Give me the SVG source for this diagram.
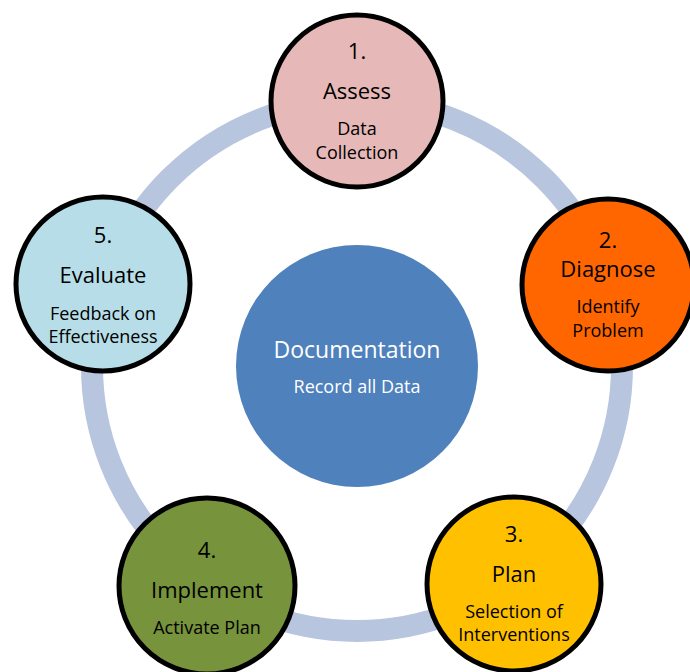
<svg xmlns="http://www.w3.org/2000/svg" width="690" height="672" viewBox="0 0 690 672">
  <style>
    .step { stroke: #000; stroke-width: 5; }
    text { font-family: "Open Sans", "Noto Sans", sans-serif; text-anchor: middle; fill: #000; }
    .big { font-size: 22px; }
    .small { font-size: 18px; }
    .light { fill: #fff; }
  </style>
  <rect width="690" height="672" fill="#fff"/>

  <!-- cycle ring linking the steps -->
  <g id="connectors">
    <circle cx="357" cy="366" r="265" fill="none" stroke="#B7C5DF" stroke-width="22"/>
  </g>

  <g id="documentation">
    <circle cx="357" cy="366" r="121" fill="#4F81BD"/>
    <text x="357" y="358" class="light" style="font-size:23px">Documentation</text>
    <text x="357" y="393" class="light small">Record all Data</text>
  </g>

  <g id="assess">
    <circle class="step" cx="357" cy="101" r="86" fill="#E6B8B7"/>
    <text x="357" y="59" class="big">1.</text>
    <text x="357" y="99" class="big">Assess</text>
    <text x="357" y="135" class="small">Data</text>
    <text x="357" y="159" class="small">Collection</text>
  </g>

  <g id="diagnose">
    <circle class="step" cx="608" cy="285" r="86" fill="#FF6600"/>
    <text x="608" y="248" class="big">2.</text>
    <text x="608" y="277" class="big">Diagnose</text>
    <text x="608" y="313" class="small">Identify</text>
    <text x="608" y="337" class="small">Problem</text>
  </g>

  <g id="plan">
    <circle class="step" cx="514" cy="584" r="87" fill="#FFC000"/>
    <text x="514" y="542" class="big">3.</text>
    <text x="514" y="582" class="big">Plan</text>
    <text x="514" y="618" class="small">Selection of</text>
    <text x="514" y="641" class="small">Interventions</text>
  </g>

  <g id="implement">
    <circle class="step" cx="207" cy="586" r="88" fill="#77933C"/>
    <text x="207" y="558" class="big">4.</text>
    <text x="207" y="598" class="big">Implement</text>
    <text x="207" y="634" class="small">Activate Plan</text>
  </g>

  <g id="evaluate">
    <circle class="step" cx="103" cy="284" r="87" fill="#B7DEE8"/>
    <text x="103" y="243" class="big">5.</text>
    <text x="103" y="283" class="big">Evaluate</text>
    <text x="103" y="320" class="small">Feedback on</text>
    <text x="103" y="343" class="small">Effectiveness</text>
  </g>
</svg>
